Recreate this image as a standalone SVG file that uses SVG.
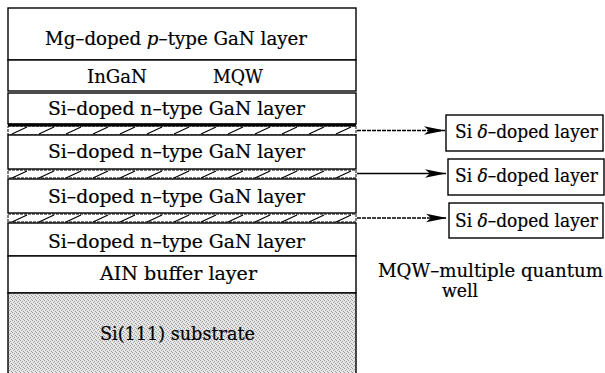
<svg xmlns="http://www.w3.org/2000/svg" width="605" height="373" viewBox="0 0 605 373">
<style>
.lay{fill:#fff;stroke:#000;stroke-width:1.4}
.t{font-family:"DejaVu Serif","Liberation Serif",serif;font-size:18px;fill:#000;stroke:#000;stroke-width:0.2}
.lbl{fill:#fff;stroke:#000;stroke-width:1.4}
.ar{stroke:#000;stroke-width:1.3;fill:none}
</style>
<defs>
<pattern id="hatch" width="27" height="9" patternUnits="userSpaceOnUse">
<line x1="4" y1="8" x2="19" y2="1" stroke="#000" stroke-width="1.2"/>
</pattern>
<pattern id="stipple" width="4" height="4" patternUnits="userSpaceOnUse">
<rect width="4" height="4" fill="#e6e6e6"/>
<rect x="0" y="0" width="1" height="1" fill="#9a9a9a"/>
<rect x="2" y="1" width="1" height="1" fill="#9a9a9a"/>
<rect x="1" y="2" width="1" height="1" fill="#b0b0b0"/>
<rect x="3" y="3" width="1" height="1" fill="#9a9a9a"/>
</pattern>
<marker id="head" markerWidth="22" markerHeight="10" refX="21" refY="5" orient="auto" markerUnits="userSpaceOnUse">
<path d="M21,5 L0,0.8 L5,5 L0,9.2 Z" fill="#000"/>
</marker>
</defs>

<g id="mg-layer">
<rect class="lay" x="8" y="8" width="348" height="52"/>
<text class="t" x="45" y="45" textLength="262" lengthAdjust="spacingAndGlyphs">Mg–doped <tspan font-style="italic">p</tspan>–type GaN layer</text>
</g>
<g id="mqw-layer">
<rect class="lay" x="8" y="60" width="348" height="31" stroke-width="1.8"/>
<text class="t" x="87" y="83" textLength="60" lengthAdjust="spacingAndGlyphs">InGaN</text>
<text class="t" x="213" y="83" textLength="50" lengthAdjust="spacingAndGlyphs">MQW</text>
</g>
<g id="si-n-layer-1">
<rect class="lay" x="8" y="93" width="348" height="31"/>
<text class="t" x="48" y="115" textLength="257" lengthAdjust="spacingAndGlyphs">Si–doped n–type GaN layer</text>
</g>
<g id="delta-layer-1" transform="translate(8,126)">
<rect x="0" y="0" width="348" height="9" fill="url(#hatch)" stroke="#000" stroke-width="1" stroke-dasharray="3 1"/>
<line x1="0" y1="-1" x2="348" y2="-1" stroke="#000" stroke-width="3"/>
</g>
<g id="si-n-layer-2">
<rect class="lay" x="8" y="135" width="348" height="34"/>
<text class="t" x="48" y="158" textLength="257" lengthAdjust="spacingAndGlyphs">Si–doped n–type GaN layer</text>
</g>
<g id="delta-layer-2" transform="translate(8,170)">
<rect x="0" y="0" width="348" height="8" fill="url(#hatch)" stroke="#000" stroke-width="1" stroke-dasharray="3 1"/>
</g>
<g id="si-n-layer-3">
<rect class="lay" x="8" y="179" width="348" height="34"/>
<text class="t" x="48" y="203" textLength="257" lengthAdjust="spacingAndGlyphs">Si–doped n–type GaN layer</text>
</g>
<g id="delta-layer-3" transform="translate(8,214)">
<rect x="0" y="0" width="348" height="8" fill="url(#hatch)" stroke="#000" stroke-width="1" stroke-dasharray="3 1"/>
</g>
<g id="si-n-layer-4">
<rect class="lay" x="8" y="223" width="348" height="33"/>
<text class="t" x="48" y="248" textLength="257" lengthAdjust="spacingAndGlyphs">Si–doped n–type GaN layer</text>
</g>
<g id="aln-buffer">
<rect class="lay" x="8" y="256" width="348" height="37"/>
<text class="t" x="100" y="280" textLength="157" lengthAdjust="spacingAndGlyphs">AIN buffer layer</text>
</g>
<g id="substrate">
<rect x="8" y="293" width="348" height="85" fill="url(#stipple)" stroke="#000" stroke-width="1.4"/>
<text class="t" x="100" y="340" textLength="155" lengthAdjust="spacingAndGlyphs">Si(111) substrate</text>
</g>

<g id="connectors">
<line class="ar" x1="357" y1="130.5" x2="445" y2="130.5" stroke-dasharray="4 1" marker-end="url(#head)"/>
<line class="ar" x1="357" y1="173.5" x2="446" y2="173.5" marker-end="url(#head)"/>
<line class="ar" x1="357" y1="218" x2="447" y2="218" stroke-dasharray="4 1" marker-end="url(#head)"/>
</g>

<g id="delta-label-1">
<rect class="lbl" x="446" y="115" width="157" height="36" stroke-width="1.7"/>
<text class="t" x="455" y="138" textLength="143" lengthAdjust="spacingAndGlyphs">Si <tspan font-style="italic">δ</tspan>–doped layer</text>
</g>
<g id="delta-label-2">
<rect class="lbl" x="448" y="159" width="156" height="36"/>
<text class="t" x="455" y="182" textLength="143" lengthAdjust="spacingAndGlyphs">Si <tspan font-style="italic">δ</tspan>–doped layer</text>
</g>
<g id="delta-label-3">
<rect class="lbl" x="449" y="203" width="154" height="35"/>
<text class="t" x="455" y="227" textLength="143" lengthAdjust="spacingAndGlyphs">Si <tspan font-style="italic">δ</tspan>–doped layer</text>
</g>

<g id="legend">
<text class="t" x="378" y="277" font-size="16" textLength="225" lengthAdjust="spacingAndGlyphs">MQW–multiple quantum</text>
<text class="t" x="442" y="297" font-size="16" textLength="36" lengthAdjust="spacingAndGlyphs">well</text>
</g>
</svg>
